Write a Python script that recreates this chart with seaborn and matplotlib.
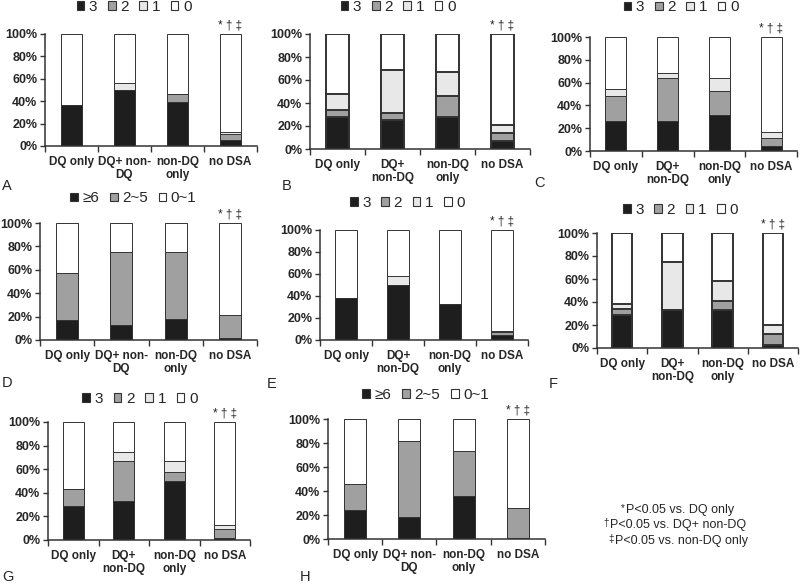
import numpy as np
import matplotlib
matplotlib.use('Agg')
import matplotlib.pyplot as plt
from matplotlib.patches import Patch
import seaborn as sns

sns.set_style('white')
plt.rcParams['font.family'] = ['Liberation Sans', 'DejaVu Sans']

GROUPS = ['DQ only', 'DQ+ non-DQ', 'non-DQ only', 'no DSA']
LABELS_WIDE = ['DQ only', 'DQ+ non-\nDQ', 'non-DQ\nonly', 'no DSA']
LABELS_TALL = ['DQ only', 'DQ+\nnon-DQ', 'non-DQ\nonly', 'no DSA']
SCORE_LEVELS = ['3', '2', '1', '0']
COUNT_LEVELS = ['≥6', '2~5', '0~1']
SIG_MARK = '* † ‡'

# percentages, bottom segment first
a_3 = [37, 50, 39, 5.5]
a_2 = [0, 0, 7, 5]
a_1 = [0, 6, 0, 2]
a_0 = [63, 44, 54, 87.5]

b_3 = [28, 25, 28, 7]
b_2 = [6, 6, 18, 7]
b_1 = [14, 38, 21, 7]
b_0 = [52, 31, 33, 79]

c_3 = [26, 26, 32, 4]
c_2 = [22, 38, 21, 7]
c_1 = [6, 4, 11, 6]
c_0 = [46, 32, 36, 83]

d_hi = [17, 13, 18, 2]
d_mid = [40, 62, 57, 19]
d_lo = [43, 25, 25, 79]

e_3 = [38, 50, 33, 5]
e_2 = [0, 0, 0, 2]
e_1 = [0, 8, 0, 1]
e_0 = [62, 42, 67, 92]

f_3 = [29, 33, 33, 3]
f_2 = [5, 0, 8, 9]
f_1 = [4, 42, 17, 8]
f_0 = [62, 25, 42, 80]

g_3 = [29, 33, 50, 2]
g_2 = [14, 34, 8, 7]
g_1 = [0, 8, 9, 4]
g_0 = [57, 25, 33, 87]

h_hi = [24, 18, 36, 0.5]
h_mid = [22, 64, 37, 25.5]
h_lo = [54, 18, 27, 74]

PANELS = [
    ('A', [a_3, a_2, a_1, a_0], SCORE_LEVELS, LABELS_WIDE),
    ('B', [b_3, b_2, b_1, b_0], SCORE_LEVELS, LABELS_TALL),
    ('C', [c_3, c_2, c_1, c_0], SCORE_LEVELS, LABELS_TALL),
    ('D', [d_hi, d_mid, d_lo], COUNT_LEVELS, LABELS_WIDE),
    ('E', [e_3, e_2, e_1, e_0], SCORE_LEVELS, LABELS_TALL),
    ('F', [f_3, f_2, f_1, f_0], SCORE_LEVELS, LABELS_TALL),
    ('G', [g_3, g_2, g_1, g_0], SCORE_LEVELS, LABELS_TALL),
    ('H', [h_hi, h_mid, h_lo], COUNT_LEVELS, LABELS_WIDE),
]

COLORS4 = ['#1e1e1e', '#a0a0a0', '#e8e8e8', '#ffffff']
COLORS3 = ['#1e1e1e', '#a0a0a0', '#ffffff']
EDGE = '#333333'

# layout in pixels: (x0, y_top, x1, y_bottom)
W, H = 800, 585
RECTS = {'A': (45, 34, 257, 146), 'B': (310, 34, 530, 149), 'C': (590, 37, 797, 151),
         'D': (40, 223, 257, 340), 'E': (320, 230, 528, 340), 'F': (597, 233, 798, 348),
         'G': (48, 422, 250, 540), 'H': (328, 419, 545, 539)}
LEG_POS = {'A': (0.42, 1.24), 'B': (0.40, 1.235), 'C': (0.44, 1.26), 'D': (0.43, 1.21),
           'E': (0.42, 1.245), 'F': (0.415, 1.2), 'G': (0.455, 1.195), 'H': (0.45, 1.2)}
LETTER_POS = {'A': (2, 179), 'B': (282, 179), 'C': (534, 176), 'D': (2, 376),
              'E': (267, 377), 'F': (549, 377), 'G': (2, 570), 'H': (300, 570)}
THICK = ['B', 'F']

fig = plt.figure(figsize=(W / 100, H / 100), dpi=100)

for letter, series, levels, xlabels in PANELS:
    x0, yt, x1, yb = RECTS[letter]
    ax = fig.add_axes([x0 / W, 1 - yb / H, (x1 - x0) / W, (yb - yt) / H])
    colors = COLORS4 if len(levels) == 4 else COLORS3
    lw = 1.4 if letter in THICK else 0.7
    tops = np.cumsum(np.array(series, dtype=float), axis=0)
    # draw from the top segment down so lower segments cover higher ones
    for i in reversed(range(len(series))):
        sns.barplot(x=GROUPS, y=tops[i], order=GROUPS, color=colors[i], saturation=1,
                    width=0.41, edgecolor=EDGE, linewidth=lw, errorbar=None, ax=ax)

    ax.set_xlim(-0.5, 3.5)
    ax.set_ylim(0, 100)
    ax.set_xlabel('')
    ax.set_ylabel('')
    ax.set_yticks(range(0, 101, 20))
    ax.set_yticklabels(['{}%'.format(v) for v in range(0, 101, 20)], fontweight='bold', fontsize=9)
    ax.set_xticks(range(4))
    ax.set_xticklabels(xlabels, fontweight='bold', fontsize=8.5, linespacing=1.05)
    ax.set_xticks([-0.5, 0.5, 1.5, 2.5, 3.5], minor=True)
    ax.tick_params(axis='x', which='major', length=0, pad=7.5)
    ax.tick_params(axis='x', which='minor', length=4, width=1, bottom=True, color=EDGE)
    ax.tick_params(axis='y', length=3.5, width=1, left=True, pad=2, color=EDGE)
    sns.despine(ax=ax)
    for sp in ['left', 'bottom']:
        ax.spines[sp].set_color(EDGE)
        ax.spines[sp].set_linewidth(1.1)

    ax.text(3, 102, SIG_MARK, ha='center', va='bottom', fontsize=8.5, clip_on=False)

    handles = [Patch(facecolor=c, edgecolor=EDGE, linewidth=0.8) for c in colors]
    ax.legend(handles, levels, loc='center', bbox_to_anchor=LEG_POS[letter], ncol=len(levels),
              frameon=False, fontsize=11, handlelength=0.5, handleheight=0.5,
              handletextpad=0.3, columnspacing=0.7, borderaxespad=0, borderpad=0)

    lx, ly = LETTER_POS[letter]
    fig.text(lx / W, 1 - ly / H, letter, ha='left', va='top', fontsize=10.5)

# footnote
notes = [('*', 'P<0.05 vs. DQ only', 626, 510),
         ('†', 'P<0.05 vs. DQ+ non-DQ', 610, 525),
         ('‡', 'P<0.05 vs. non-DQ only', 615, 541)]
for sym, txt, nx, ny in notes:
    fig.text(nx / W, 1 - ny / H, txt, ha='left', va='center', fontsize=9)
    fig.text((nx - 1) / W, 1 - (ny - 2) / H, sym, ha='right', va='center', fontsize=7)

fig.savefig('out.png', dpi=100)
